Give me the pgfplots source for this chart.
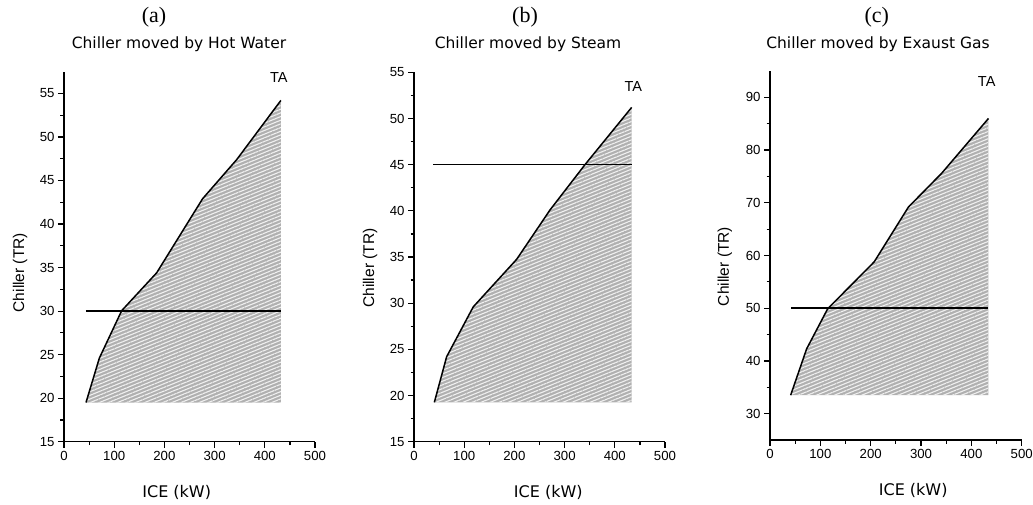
\documentclass[border=0pt]{standalone}
\usepackage{fontspec}
\setmainfont{Liberation Sans}
\newfontfamily\verd{DejaVu Sans}
\newfontfamily\tms{Liberation Serif}
\usepackage{pgfplots}
\pgfplotsset{compat=1.18}
\usetikzlibrary{patterns.meta}

\pgfplotsset{
  panel/.style={
    scale only axis, width=251pt, height=370pt,
    axis lines=left, axis line style={-, line width=1.4pt},
    xmin=0, xmax=500, xtick={0,100,...,500}, minor x tick num=1,
    minor y tick num=1,
    tick align=outside, major tick length=6pt, minor tick length=3.5pt,
    tick style={black, line width=1.2pt},
    /pgf/number format/assume math mode=true,
    tick label style={font=\fontsize{13.2}{15}\selectfont},
    xlabel={\verd ICE (kW)}, ylabel={Chiller (TR)},
    xlabel style={font=\fontsize{16}{18}\selectfont},
    ylabel style={font=\fontsize{15.5}{17}\selectfont},
    clip=false,
  },
  fillarea/.style={draw=none, fill=gray!62, forget plot},
  streaks/.style={draw=none, pattern={Lines[angle=22,distance=3.4pt,line width=1.1pt]},
    pattern color=white!88!gray, forget plot},
  edge/.style={black, line width=1.5pt, no marks},
}
\tikzset{talabel/.style={font=\fontsize{14.5}{16}\selectfont}}

% (a) hot water
\pgfplotstableread{
x y
43.8 19.5
70.4 24.6
114.9 30.05
184.6 34.4
276 42.9
344 47.4
432 54.2
}\curvea
% (b) steam
\pgfplotstableread{
x y
40.5 19.26
65 24.2
118 29.6
204.5 34.75
271 40.1
340.6 45.0
433.6 51.2
}\curveb
% (c) exhaust gas
\pgfplotstableread{
x y
41 33.5
72.8 42.3
114.6 49.9
207 58.8
275 69.2
341 75.6
434 86.0
}\curvec

\begin{document}
\begin{tikzpicture}[x=1pt,y=1pt]
\useasboundingbox (0,0) rectangle (1033,-505);

\begin{axis}[panel, at={(64pt,-441.7pt)}, anchor=south west,
  ymin=15, ymax=57.5, ytick={15,20,...,55},
  xlabel style={at={(axis description cs:0.449,-0.138)}, anchor=center},
  ylabel style={at={(axis description cs:-0.175,0.457)}, anchor=center}]
\addplot[fillarea] coordinates {(43.8,19.5) (70.4,24.6) (114.9,30.05) (184.6,34.4) (276,42.9) (344,47.4) (432,54.2) (432,19.5)} -- cycle;
\addplot[streaks] coordinates {(43.8,19.5) (70.4,24.6) (114.9,30.05) (184.6,34.4) (276,42.9) (344,47.4) (432,54.2) (432,19.5)} -- cycle;
\addplot[edge] table {\curvea};
\addplot[edge] coordinates {(43.8,30) (432,30)};
\node[talabel] at (axis cs:428,56.8) {TA};
\end{axis}

\begin{axis}[panel, at={(414pt,-441.7pt)}, anchor=south west, height=369.4pt,
  ymin=15, ymax=55, ytick={15,20,...,55},
  xlabel style={at={(axis description cs:0.535,-0.138)}, anchor=center},
  ylabel style={at={(axis description cs:-0.175,0.47)}, anchor=center}]
\addplot[fillarea] coordinates {(40.5,19.26) (65,24.2) (118,29.6) (204.5,34.75) (271,40.1) (340.6,45.0) (433.6,51.2) (433.6,19.26)} -- cycle;
\addplot[streaks] coordinates {(40.5,19.26) (65,24.2) (118,29.6) (204.5,34.75) (271,40.1) (340.6,45.0) (433.6,51.2) (433.6,19.26)} -- cycle;
\addplot[edge] table {\curveb};
\addplot[edge] coordinates {(38.5,45) (433.6,45)};
\node[talabel] at (axis cs:437,53.5) {TA};
\end{axis}

\begin{axis}[panel, at={(770pt,-440pt)}, anchor=south west, width=251.7pt, height=369pt,
  ymin=25, ymax=95, ytick={30,40,...,90},
  xlabel style={at={(axis description cs:0.569,-0.138)}, anchor=center},
  ylabel style={at={(axis description cs:-0.179,0.47)}, anchor=center}]
\addplot[fillarea] coordinates {(41,33.5) (72.8,42.3) (114.6,49.9) (207,58.8) (275,69.2) (341,75.6) (434,86.0) (434,33.5)} -- cycle;
\addplot[streaks] coordinates {(41,33.5) (72.8,42.3) (114.6,49.9) (207,58.8) (275,69.2) (341,75.6) (434,86.0) (434,33.5)} -- cycle;
\addplot[edge] table {\curvec};
\addplot[edge] coordinates {(41.7,50) (434,50)};
\node[talabel] at (axis cs:430.5,93) {TA};
\end{axis}

\node[font=\tms\fontsize{22}{24}\selectfont] at (154,-17) {(a)};
\node[font=\verd\fontsize{15.5}{17}\selectfont] at (179,-44) {Chiller moved by Hot Water};
\node[font=\tms\fontsize{22}{24}\selectfont] at (525,-17) {(b)};
\node[font=\verd\fontsize{15.5}{17}\selectfont] at (528,-44) {Chiller moved by Steam};
\node[font=\tms\fontsize{22}{24}\selectfont] at (876.7,-17) {(c)};
\node[font=\verd\fontsize{15.5}{17}\selectfont] at (878,-44) {Chiller moved by Exaust Gas};
\end{tikzpicture}
\end{document}
